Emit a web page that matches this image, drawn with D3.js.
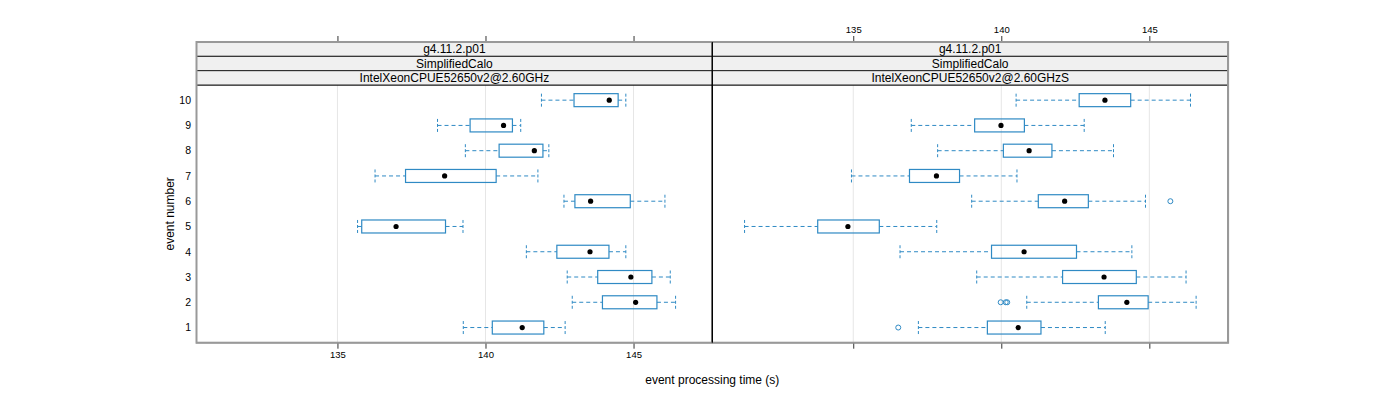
<!DOCTYPE html>
<html>
<head>
<meta charset="utf-8">
<script src="https://cdn.jsdelivr.net/npm/d3@7"></script>
<style>
  body { margin: 0; background: #fff; }
  text { font-family: "Liberation Sans", Arial, Helvetica, sans-serif; fill: #000; }
</style>
</head>
<body>
<div id="chart"></div>
<script>
// dati
const events = [1, 2, 3, 4, 5, 6, 7, 8, 9, 10];
const stripTop = 'g4.11.2.p01';
const stripMid = 'SimplifiedCalo';
const machines = ['IntelXeonCPUE52650v2@2.60GHz', 'IntelXeonCPUE52650v2@2.60GHzS'];
const xTicks = [135, 140, 145];

// pannello sinistro
const lowA = [139.25, 142.93, 142.76, 141.38, 135.68, 142.65, 136.27, 139.32, 138.38, 141.89];
const q1A = [140.23, 143.95, 143.79, 142.41, 135.82, 143.02, 137.3, 140.46, 139.48, 142.99];
const medA = [141.24, 145.07, 144.91, 143.53, 136.98, 143.55, 138.62, 141.65, 140.61, 144.18];
const q3A = [141.97, 145.79, 145.62, 144.17, 138.65, 144.89, 140.36, 141.94, 140.91, 144.48];
const highA = [142.69, 146.42, 146.24, 144.74, 139.24, 146.06, 141.77, 142.14, 141.19, 144.74];
const outA = [];

// pannello destro
const lowB = [137.2, 140.86, 139.17, 136.58, 131.33, 139.0, 134.94, 137.85, 136.96, 140.5];
const q1B = [139.53, 143.28, 142.07, 139.67, 133.8, 141.25, 136.9, 140.07, 139.1, 142.63];
const medB = [140.57, 144.24, 143.47, 140.77, 134.82, 142.14, 137.81, 140.94, 139.99, 143.5];
const q3B = [141.34, 144.96, 144.56, 142.54, 135.88, 142.94, 138.59, 141.71, 140.78, 144.37];
const highB = [143.51, 146.58, 146.24, 144.41, 137.82, 144.87, 140.53, 143.79, 142.8, 146.39];
const outB = [[1, 136.52], [2, 139.98], [2, 140.15], [2, 140.2], [6, 145.71]];

const xDomain = [130.24, 147.66];

const W = 1400, H = 400;
const pLeft = 196.5, panelW = 515.8, pTop = 85, pBottom = 342.7;
const stripH = 14.33;
const stripStart = pTop - 3 * stripH;
const boxCol = '#2f8ac4';

const svg = d3.select('#chart').append('svg')
    .attr('width', W).attr('height', H);

const y = d3.scaleLinear().domain([0.4, 10.6]).range([pBottom, pTop]);

const panels = [
    { name: machines[0], low: lowA, q1: q1A, med: medA, q3: q3A, high: highA, out: outA },
    { name: machines[1], low: lowB, q1: q1B, med: medB, q3: q3B, high: highB, out: outB }
];

const half = 6.5; // mezza altezza box

panels.forEach(function (p, i) {
    const x0 = pLeft + i * panelW;
    const x = d3.scaleLinear().domain(xDomain).range([x0, x0 + panelW]);
    const g = svg.append('g');

    // griglia verticale
    g.selectAll('line.grid').data(xTicks).join('line')
        .attr('x1', d => x(d)).attr('x2', d => x(d))
        .attr('y1', pTop).attr('y2', pBottom)
        .attr('stroke', '#e6e6e6').attr('stroke-width', 1);

    const rows = events.map((e, k) => ({
        e: e, low: p.low[k], q1: p.q1[k], med: p.med[k], q3: p.q3[k], high: p.high[k]
    }));

    // baffi tratteggiati
    const dash = '4,3';
    g.selectAll('line.wl').data(rows).join('line')
        .attr('x1', d => x(d.low)).attr('x2', d => x(d.q1))
        .attr('y1', d => y(d.e)).attr('y2', d => y(d.e))
        .attr('stroke', boxCol).attr('stroke-dasharray', dash);
    g.selectAll('line.wh').data(rows).join('line')
        .attr('x1', d => x(d.q3)).attr('x2', d => x(d.high))
        .attr('y1', d => y(d.e)).attr('y2', d => y(d.e))
        .attr('stroke', boxCol).attr('stroke-dasharray', dash);
    // estremi
    ['low', 'high'].forEach(function (k) {
        g.selectAll('line.cap' + k).data(rows).join('line')
            .attr('x1', d => x(d[k])).attr('x2', d => x(d[k]))
            .attr('y1', d => y(d.e) - half).attr('y2', d => y(d.e) + half)
            .attr('stroke', boxCol).attr('stroke-dasharray', '3,2');
    });

    // box
    g.selectAll('rect.box').data(rows).join('rect')
        .attr('x', d => x(d.q1)).attr('width', d => x(d.q3) - x(d.q1))
        .attr('y', d => y(d.e) - half).attr('height', 2 * half)
        .attr('fill', 'none').attr('stroke', boxCol).attr('stroke-width', 1.2);

    // mediana
    g.selectAll('circle.med').data(rows).join('circle')
        .attr('cx', d => x(d.med)).attr('cy', d => y(d.e)).attr('r', 2.6)
        .attr('fill', '#000');

    // outlier
    g.selectAll('circle.out').data(p.out).join('circle')
        .attr('cx', d => x(d[1])).attr('cy', d => y(d[0])).attr('r', 2.5)
        .attr('fill', 'none').attr('stroke', boxCol).attr('stroke-width', 1);

    // bordo pannello
    g.append('rect')
        .attr('x', x0).attr('y', pTop).attr('width', panelW).attr('height', pBottom - pTop)
        .attr('fill', 'none').attr('stroke', '#000').attr('stroke-width', 1);

    // strisce
    [stripTop, stripMid, p.name].forEach(function (t, j) {
        const sy = stripStart + j * stripH;
        g.append('rect')
            .attr('x', x0).attr('y', sy).attr('width', panelW).attr('height', stripH)
            .attr('fill', '#f0f0f0').attr('stroke', '#222').attr('stroke-width', 1);
        g.append('text')
            .attr('x', x0 + panelW / 2).attr('y', sy + stripH / 2 + 4.2)
            .attr('text-anchor', 'middle').attr('font-size', 12)
            .text(t);
    });

    // assi: alternati (sinistra sotto, destra sopra)
    const axisBot = d3.axisBottom(x).tickValues(xTicks).tickSize(6).tickPadding(3)
        .tickFormat(i === 0 ? d3.format('d') : '');
    const axisTop = d3.axisTop(x).tickValues(xTicks).tickSize(6).tickPadding(3)
        .tickFormat(i === 1 ? d3.format('d') : '');
    const ab = svg.append('g').attr('transform', `translate(0,${pBottom})`).call(axisBot);
    const at = svg.append('g').attr('transform', `translate(0,${stripStart})`).call(axisTop);
    [ab, at].forEach(function (a) {
        a.select('.domain').remove();
        a.selectAll('line').attr('stroke', '#333');
        a.selectAll('text').attr('font-size', 9.5)
            .style('font-family', '"Liberation Sans", Arial, sans-serif');
    });
});

// bordo esterno grigio
svg.append('rect')
    .attr('x', pLeft).attr('y', stripStart)
    .attr('width', 2 * panelW).attr('height', pBottom - stripStart)
    .attr('fill', 'none').attr('stroke', '#999').attr('stroke-width', 2);

// divisore centrale
svg.append('line')
    .attr('x1', pLeft + panelW).attr('x2', pLeft + panelW)
    .attr('y1', stripStart).attr('y2', pBottom)
    .attr('stroke', '#000').attr('stroke-width', 1.2);

// etichette asse y
svg.append('g').selectAll('text').data(events).join('text')
    .attr('x', 191).attr('y', d => y(d) + 3.8)
    .attr('text-anchor', 'end').attr('font-size', 10.5)
    .text(d => d);

// titoli assi
svg.append('text')
    .attr('x', pLeft + panelW).attr('y', 384)
    .attr('text-anchor', 'middle').attr('font-size', 12)
    .text('event processing time (s)');
svg.append('text')
    .attr('transform', `translate(174,${(pTop + pBottom) / 2}) rotate(-90)`)
    .attr('text-anchor', 'middle').attr('font-size', 12)
    .text('event number');
</script>
</body>
</html>
